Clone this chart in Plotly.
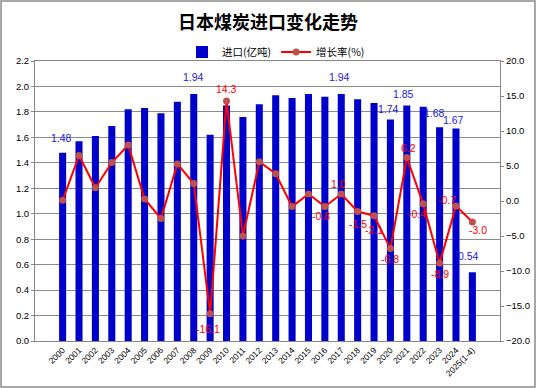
import plotly.graph_objects as go

years = [str(y) for y in range(2000, 2025)] + ["2025(1-4)"]
imports = [1.48, 1.57, 1.61, 1.69, 1.82, 1.83, 1.79, 1.88, 1.94, 1.62, 1.85, 1.76, 1.86,
           1.93, 1.91, 1.94, 1.92, 1.94, 1.90, 1.87, 1.74, 1.85, 1.84, 1.68, 1.67, 0.54]
growth = [0.1, 6.5, 1.9, 5.5, 8.0, 0.3, -2.5, 5.3, 2.5, -16.1, 14.3, -5.0, 5.6,
          3.9, -0.8, 1.0, -0.8, 1.0, -1.5, -2.1, -6.8, 6.2, -0.4, -8.9, -0.7, -3.0]
import_labels = ["1.48", "", "", "", "", "", "", "", "1.94", "", "", "", "",
                 "", "", "", "", "1.94", "", "", "1.74", "1.85", "", "1.68", "1.67", "0.54"]
growth_labels = ["", "", "", "", "", "", "", "", "", "-16.1", "14.3", "", "",
                 "", "", "", "-0.8", "1.0", "-1.5", "-2.1", "-6.8", "6.2", "-0.4", "-8.9", "-0.7", "-3.0"]

# label offsets in pixels (dx, dy with dy positive = down), styling only
imp_off = {0: (-1, -15), 8: (0, -17), 17: (-2, -17), 20: (-2, -11), 21: (-3, -12),
           23: (-5, -14), 24: (-2, -8), 25: (-4, -16)}
gr_off = {9: (-2, 15), 10: (0, -12), 16: (-4, 9), 17: (-3, -10), 18: (0, 12), 19: (0, 14),
          20: (0, 10), 21: (2, -10), 22: (-6, 10), 23: (0, 11), 24: (-9, -6), 25: (6, 8)}

FONT = "Liberation Sans"
fig = go.Figure()
fig.add_trace(go.Bar(
    x=years, y=imports, name="进口(亿吨)", marker=dict(color="#0000CC", line=dict(width=0)),
    yaxis="y",
))
fig.add_trace(go.Scatter(
    x=years, y=growth, name="增长率(%)", mode="lines+markers", yaxis="y2",
    line=dict(color="#FF0000", width=2),
    marker=dict(color="#C0504D", size=7, line=dict(width=0)), cliponaxis=False,
))

annotations = []
for i, lab in enumerate(import_labels):
    if lab:
        dx, dy = imp_off.get(i, (0, -12))
        annotations.append(dict(x=i, y=imports[i], xref="x", yref="y", text=lab, showarrow=False,
                                xshift=dx, yshift=-dy, font=dict(color="#1A1AE6", size=10.5, family=FONT)))
for i, lab in enumerate(growth_labels):
    if lab:
        dx, dy = gr_off.get(i, (0, -10))
        annotations.append(dict(x=i, y=growth[i], xref="x", yref="y2", text=lab, showarrow=False,
                                xshift=dx, yshift=-dy, font=dict(color="#FF0000", size=10.5, family=FONT)))

W, H = 536, 388
ml, mr, mt, mb = 35, 36, 61, 47
pw, ph = W - ml - mr, H - mt - mb

fig.update_layout(
    width=W, height=H, margin=dict(l=ml, r=mr, t=mt, b=mb, pad=0),
    paper_bgcolor="white", plot_bgcolor="white",
    bargap=0.57,
    font=dict(family=FONT, size=10, color="black"),
    title=dict(text="<b>日本煤炭进口变化走势</b>", x=0.5, xanchor="center", y=1 - 23 / H, yanchor="middle",
               font=dict(family="Noto Sans CJK SC", size=18, color="black")),
    legend=dict(orientation="h", x=(276 - ml) / pw, xanchor="center", y=(H - mb - 52) / ph, yanchor="middle",
                font=dict(family="Noto Sans CJK SC", size=10.5), bgcolor="rgba(0,0,0,0)",
                itemwidth=30, tracegroupgap=0),
    xaxis=dict(type="category", tickangle=-45, tickfont=dict(size=8.5, family=FONT), automargin=False,
               showline=True, linecolor="#888888", linewidth=1, mirror=True, ticks="", showgrid=False),
    yaxis=dict(range=[0, 2.2], dtick=0.2, tickformat=".1f", showgrid=True, gridcolor="#8C8C8C", gridwidth=1,
               showline=True, linecolor="#888888", linewidth=1, ticks="outside", ticklen=3, tickcolor="#888888",
               zeroline=False, tickfont=dict(size=9.5), automargin=False),
    yaxis2=dict(range=[-20, 20], dtick=5, tickformat=".1f", overlaying="y", side="right", showgrid=False,
                showline=True, linecolor="#888888", linewidth=1, ticks="outside", ticklen=3, tickcolor="#888888",
                zeroline=False, tickfont=dict(size=9.5), automargin=False),
    annotations=annotations,
    shapes=[dict(type="rect", xref="paper", yref="paper",
                 x0=(1 - ml) / pw, x1=(W - 1 - ml) / pw,
                 y0=(H - mb - (H - 1)) / ph, y1=(H - mb - 1) / ph,
                 line=dict(color="#8A8A8A", width=1.5), layer="below")],
)

fig.write_html("out.html", config={"displayModeBar": False},
               post_script="document.body.style.margin='0';document.body.style.overflow='hidden';")
